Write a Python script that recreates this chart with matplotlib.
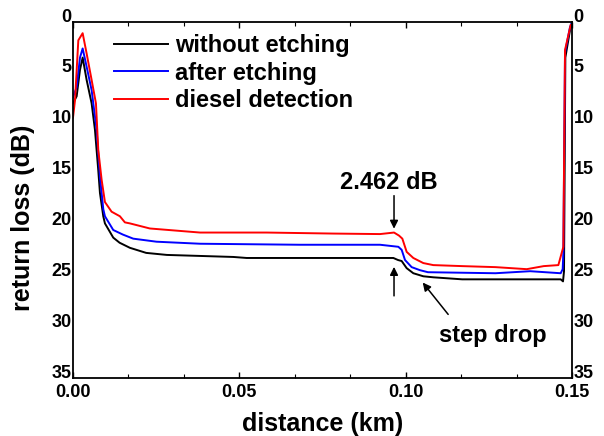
import matplotlib
matplotlib.use("Agg")
import matplotlib.pyplot as plt
from matplotlib.ticker import MultipleLocator, FixedLocator
from matplotlib.transforms import ScaledTranslation

plt.rcParams['font.family'] = ['Liberation Sans', 'DejaVu Sans']
plt.rcParams['font.weight'] = 'bold'

# ---- data (distance in km, return loss in dB) ----
black_x = [0, .0011, .0021, .0029, .0041, .0056, .0066, .0076, .0081, .0091, .0096, .0121,
           .0140, .0171, .0220, .0282, .0482, .0522, .0923, .0963, .0977, .0988, .1003, .1023,
           .1053, .1083, .117, .127, .1466, .1473, .1476, .1480, .1494, .1499]
black_y = [8.0, 7.3, 4.7, 3.5, 5.7, 8.0, 10.6, 14.6, 16.8, 19.1, 19.8, 21.2,
           21.7, 22.2, 22.7, 22.9, 23.1, 23.2, 23.2, 23.2, 23.4, 23.5, 24.2, 24.7,
           25.0, 25.1, 25.3, 25.3, 25.3, 25.5, 24.5, 3.5, 0.8, 0.2]

blue_x = [0, .0011, .0021, .0029, .0041, .0056, .0071, .0081, .0091, .0096, .0121, .0150,
          .0181, .0251, .0382, .0682, .0923, .0978, .0988, .0998, .1018, .1043, .1067, .127,
          .1374, .1466, .1472, .1474, .1479, .1494, .1499]
blue_y = [7.4, 6.4, 3.5, 2.6, 4.4, 6.7, 10.6, 15.2, 18.4, 19.1, 20.45, 20.9,
          21.3, 21.6, 21.8, 21.9, 21.9, 22.1, 22.4, 23.4, 24.1, 24.4, 24.6, 24.7,
          24.5, 24.7, 24.3, 22.7, 3.0, 0.5, 0.1]

red_x = [0, .0006, .0016, .0029, .0041, .0056, .0069, .0076, .0086, .0096, .0116, .0141,
         .0156, .0171, .0231, .0382, .0582, .0783, .0923, .0965, .0980, .0990, .0998, .1003,
         .1023, .1053, .1083, .117, .127, .1364, .1415, .1459, .1474, .1479, .1496]
red_y = [9.4, 7.7, 1.8, 1.1, 3.1, 5.7, 8.0, 12.6, 15.5, 17.7, 18.65, 19.1,
         19.7, 19.8, 20.3, 20.7, 20.7, 20.8, 20.85, 20.7, 21.0, 21.3, 22.1, 22.6,
         23.2, 23.7, 23.9, 24.0, 24.1, 24.3, 24.0, 23.9, 22.1, 2.75, 0.3]

labels = ['without etching', 'after etching', 'diesel detection']
colors = ['black', 'blue', 'red']
x_ticks = [0.00, 0.05, 0.10, 0.15]
x_tick_labels = ['0.00', '0.05', '0.10', '0.15']
y_ticks = [0, 5, 10, 15, 20, 25, 30, 35]

fig = plt.figure(figsize=(6.04, 4.36), dpi=100)
ax = fig.add_axes([73/604, 1-378/436, (572-73)/604, (378-22)/436])

for xs, ys, lab, c in zip([black_x, blue_x, red_x], [black_y, blue_y, red_y], labels, colors):
    ax.plot(xs, ys, color=c, lw=1.4, label=lab)

ax.set_xlim(0, 0.15)
ax.set_ylim(35, 0)
ax.xaxis.set_major_locator(FixedLocator(x_ticks))
ax.set_xticklabels(x_tick_labels)
ax.xaxis.set_minor_locator(MultipleLocator(0.05/3))
ax.yaxis.set_major_locator(FixedLocator(y_ticks))
ax.set_yticklabels([str(v) for v in y_ticks])

ax.tick_params(axis='x', which='both', direction='in', top=True, bottom=True,
               labelsize=13, pad=4)
ax.tick_params(axis='x', which='major', length=4, width=1)
ax.tick_params(axis='x', which='minor', length=3, width=0.8)
ax.tick_params(axis='y', which='both', length=0, left=True, right=True,
               labelleft=True, labelright=True, labelsize=13, pad=1)
for sp in ax.spines.values():
    sp.set_linewidth(1.3)

off = ScaledTranslation(0, 7/100, fig.dpi_scale_trans)
for t in ax.yaxis.get_major_ticks():
    t.label1.set_transform(t.label1.get_transform() + off)
    t.label2.set_transform(t.label2.get_transform() + off)
    t.label1.set_fontweight('bold')
    t.label2.set_fontweight('bold')

ax.set_xlabel('distance (km)', fontsize=18, fontweight='bold', labelpad=8)
ax.set_ylabel('return loss (dB)', fontsize=18, fontweight='bold')
ax.yaxis.set_label_coords(-0.076, 0.45)

leg = ax.legend(loc='upper left', bbox_to_anchor=(0.064, 0.993), frameon=False,
                prop={'size': 17, 'weight': 'bold'}, handlelength=2.25,
                handletextpad=0.3, labelspacing=0.2, borderaxespad=0)

arrow = dict(arrowstyle='-|>', color='black', lw=1.1, mutation_scale=12)
ax.annotate('', xy=(0.0965, 20.6), xytext=(0.0965, 16.8), arrowprops=arrow)
ax.annotate('', xy=(0.0965, 23.8), xytext=(0.0965, 27.2), arrowprops=arrow)
ax.annotate('', xy=(0.1046, 25.4), xytext=(0.1133, 28.96), arrowprops=arrow)
ax.text(0.0948, 15.8, '2.462 dB', fontsize=17, fontweight='bold', ha='center', va='center')
ax.text(0.1261, 30.8, 'step drop', fontsize=17, fontweight='bold', ha='center', va='center')

fig.savefig('out.png', dpi=100)
